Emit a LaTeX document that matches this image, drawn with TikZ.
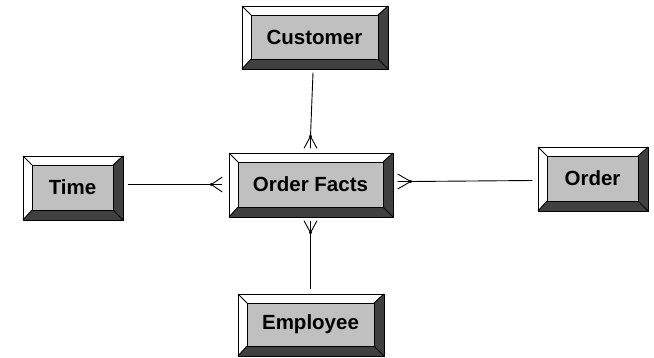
\documentclass[tikz,border=0pt]{standalone}
\usepackage{fontspec}
\setmainfont{Liberation Sans}
\usetikzlibrary{calc}
\definecolor{bevdark}{HTML}{404040}
\definecolor{bevface}{HTML}{C0C0C0}
\tikzset{
  conn/.style={draw=black, line width=0.9pt},
  boxlabel/.style={inner sep=0pt, font=\fontsize{20.5}{22}\selectfont\bfseries, text=black},
  edgeline/.style={draw=black, line width=0.9pt},
}
% name, x1, y1, x2, y2, label
\newcommand\bevbox[6]{%
  \fill[white] (#2,#3) -- (#4,#3) -- (#4-10,#3+9) -- (#2+9,#3+9) -- (#2+9,#5-10) -- (#2,#5) -- cycle;
  \fill[bevdark] (#4,#3) -- (#4,#5) -- (#2,#5) -- (#2+9,#5-10) -- (#4-10,#5-10) -- (#4-10,#3+9) -- cycle;
  \filldraw[fill=bevface, edgeline] (#2+9,#3+9) rectangle (#4-10,#5-10);
  \draw[edgeline] (#2,#3) -- (#2+9,#3+9);
  \draw[edgeline] (#4,#3) -- (#4-10,#3+9);
  \draw[edgeline] (#2,#5) -- (#2+9,#5-10);
  \draw[edgeline] (#4,#5) -- (#4-10,#5-10);
  \draw[edgeline] (#2,#3) rectangle (#4,#5);
  \node[boxlabel, minimum width={(#4-#2)*1pt}, minimum height={(#5-#3)*1pt}] (#1) at ({(#2+#4)/2-0.5},{(#3+#5)/2-0.5}) {#6};
}
\begin{document}
\begin{tikzpicture}[x=1pt,y=-1pt]
\useasboundingbox (0,0) rectangle (654,357);
\fill[white] (0,0) rectangle (654,357);

\bevbox{cust}{242}{6}{388}{69}{Customer}
\bevbox{ofacts}{229}{153}{393}{217}{Order Facts}
\bevbox{time}{23}{156}{123}{220}{Time}
\bevbox{order}{538}{147}{648}{211}{Order}
\bevbox{emp}{238}{294}{384}{356}{Employee}

% Customer -- Order Facts
\coordinate (d1) at ($(ofacts.north)+(0,-16)$);
\draw[conn] ($(cust.south)+(-1.5,4)$) -- (d1) -- ($(ofacts.north)+(0,-4)$);
\draw[conn] (d1) -- ($(ofacts.north)+(-6.5,-4)$);
\draw[conn] (d1) -- ($(ofacts.north)+(6.5,-4)$);
\fill (d1) circle (1.6);

% Time -- Order Facts
\coordinate (d2) at ($(ofacts.west)+(-17,0)$);
\draw[conn] ($(time.east |- ofacts.west)+(5,0)$) -- (d2) -- ($(ofacts.west)+(-6,0)$);
\draw[conn] (d2) -- ($(ofacts.west)+(-6,-7.5)$);
\draw[conn] (d2) -- ($(ofacts.west)+(-6,7.5)$);
\fill (d2) circle (1.6);

% Order Facts -- Order
\coordinate (d3) at ($(ofacts.east)+(18,-3)$);
\draw[conn] ($(order.west)+(-5,2)$) -- (d3) -- ($(ofacts.east)+(5,-3)$);
\draw[conn] (d3) -- ($(ofacts.east)+(5,-10.5)$);
\draw[conn] (d3) -- ($(ofacts.east)+(5,4.5)$);
\fill (d3) circle (1.6);

% Employee -- Order Facts
\coordinate (d4) at ($(ofacts.south)+(0,16)$);
\draw[conn] ($(emp.north)+(0,-4)$) -- (d4) -- ($(ofacts.south)+(0,4)$);
\draw[conn] (d4) -- ($(ofacts.south)+(-6.5,4)$);
\draw[conn] (d4) -- ($(ofacts.south)+(6.5,4)$);
\fill (d4) circle (1.6);
\end{tikzpicture}
\end{document}
